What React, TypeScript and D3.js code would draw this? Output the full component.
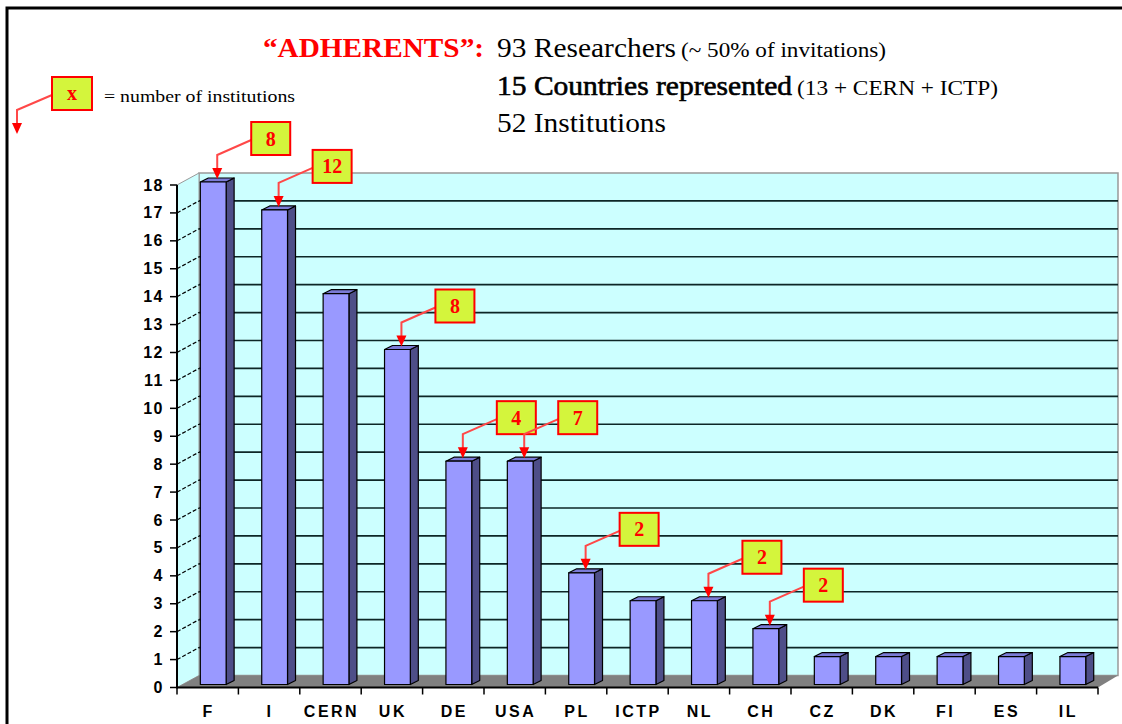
import React from "react";
import * as d3 from "d3";

const categories = ["F", "I", "CERN", "UK", "DE", "USA", "PL", "ICTP", "NL", "CH", "CZ", "DK", "FI", "ES", "IL"];
const researchers = [18, 17, 14, 12, 8, 8, 4, 3, 3, 2, 1, 1, 1, 1, 1];
const institutionCats = ["F", "I", "UK", "DE", "USA", "PL", "NL", "CH"];
const institutionCounts = [8, 12, 8, 4, 7, 2, 2, 2];
const yTicks = d3.range(0, 19);

const W = 1122;
const H = 724;
const DX = 22;
const DY = -12;
const BSY = -3;
const BDX = 8;
const BDY = -4;

const RED = "#ff0000";
const BOX = "#d4f53c";
const SERIF = "Liberation Serif, Times New Roman, serif";
const SANS = "Liberation Sans, Arial, sans-serif";

export default function App() {
  const x = d3.scaleBand<string>().domain(categories).range([177, 1098]).paddingInner(0).paddingOuter(0);
  const y = d3.scaleLinear().domain([0, 18]).range([687.5, 185]);
  const bw = x.bandwidth();
  const frontW = bw * 0.42;
  const frontOff = bw * 0.38;
  const x0 = 177, x1 = 1098, y0 = y(0), yTop = y(18);

  const barGeom = (c: string, v: number) => {
    const fx = (x(c) as number) + frontOff;
    const top = y(v) + BSY;
    const bottom = y0 + BSY;
    return { fx, top, bottom };
  };

  const arrowColor = "#ff4848";

  const annotation = (ax: number, tipY: number, n: string | number, key: string) => {
    const boxTop = tipY - 57;
    const boxLeft = ax + 34;
    const bwid = 39, bh = 33;
    const sy = boxTop + 18;
    const ey = boxTop + 33;
    return (
      <g key={key}>
        <polyline points={`${boxLeft},${sy} ${ax},${ey} ${ax},${tipY - 10}`} fill="none" stroke={arrowColor} strokeWidth={2} />
        <path d={`M${ax - 5},${tipY - 11} L${ax + 5},${tipY - 11} L${ax},${tipY} Z`} fill={RED} />
        <rect x={boxLeft} y={boxTop} width={bwid} height={bh} fill={BOX} stroke={RED} strokeWidth={2} />
        <text x={boxLeft + bwid / 2} y={boxTop + bh / 2 + 7} textAnchor="middle" fontFamily={SERIF} fontWeight="bold" fontSize={20} fill={RED}>{n}</text>
      </g>
    );
  };

  return (
    <svg width={W} height={H} style={{ position: "absolute", left: 0, top: 0 }} xmlns="http://www.w3.org/2000/svg">
      <rect x={0} y={0} width={W} height={H} fill="#ffffff" />
      <rect x={7} y={8} width={1300} height={900} fill="#ffffff" stroke="#000" strokeWidth={3} />

      {/* Title */}
      <text x={263} y={57} fontFamily={SERIF} fontWeight="bold" fontSize={28} fill={RED} textLength={221} lengthAdjust="spacingAndGlyphs">“ADHERENTS”:</text>
      <text x={497} y={57} fontFamily={SERIF} fontSize={27} fill="#000" textLength={179} lengthAdjust="spacingAndGlyphs">93 Researchers</text>
      <text x={681} y={57} fontFamily={SERIF} fontSize={20} fill="#000" textLength={205} lengthAdjust="spacingAndGlyphs">(~ 50% of invitations)</text>
      <text x={497} y={95} fontFamily={SERIF} fontSize={27} fill="#000" stroke="#000" strokeWidth={0.6} textLength={295} lengthAdjust="spacingAndGlyphs">15 Countries represented</text>
      <text x={797} y={95} fontFamily={SERIF} fontSize={20} fill="#000" textLength={201} lengthAdjust="spacingAndGlyphs">(13 + CERN + ICTP)</text>
      <text x={497} y={132} fontFamily={SERIF} fontSize={27} fill="#000" textLength={169} lengthAdjust="spacingAndGlyphs">52 Institutions</text>

      {/* Legend */}
      <polyline points="52,95 17,110 17,124" fill="none" stroke={arrowColor} strokeWidth={2} />
      <path d="M12,123 L22,123 L17,134 Z" fill={RED} />
      <rect x={52} y={77} width={40} height={33} fill={BOX} stroke={RED} strokeWidth={2} />
      <text x={72} y={100} textAnchor="middle" fontFamily={SERIF} fontWeight="bold" fontSize={20} fill={RED}>x</text>
      <text x={104} y={102} fontFamily={SERIF} fontSize={17} fill="#000" textLength={191} lengthAdjust="spacingAndGlyphs">= number of institutions</text>

      {/* Back wall */}
      <rect x={x0 + DX} y={yTop + DY} width={x1 - x0 - 2} height={y0 - yTop} fill="#ccffff" stroke="#999" strokeWidth={1.5} />
      {/* Left side wall */}
      <path d={`M${x0},${yTop} L${x0 + DX},${yTop + DY} L${x0 + DX},${y0 + DY} L${x0},${y0} Z`} fill="#ccffff" stroke="#999" strokeWidth={1} />
      {/* Floor */}
      <path d={`M${x0},${y0} L${x1},${y0} L${x1 + DX - 2},${y0 + DY} L${x0 + DX},${y0 + DY} Z`} fill="#808080" />

      {/* Gridlines */}
      {yTicks.filter((t) => t > 0 && t < 18).map((t) => (
        <g key={"g" + t}>
          <line x1={x0 + DX} x2={x1 + DX - 2} y1={y(t) + DY} y2={y(t) + DY} stroke="#0d2626" strokeWidth={1.6} />
          <line x1={x0} x2={x0 + DX} y1={y(t)} y2={y(t) + DY} stroke="#000" strokeWidth={1.2} strokeDasharray="4,2" />
        </g>
      ))}

      {/* Axes */}
      <line x1={x0} x2={x0} y1={yTop} y2={y0 + 1} stroke="#000" strokeWidth={2} />
      <line x1={x0} x2={x1} y1={y0} y2={y0} stroke="#000" strokeWidth={2} />
      {yTicks.map((t) => (
        <g key={"yt" + t}>
          <line x1={x0 - 7} x2={x0} y1={y(t)} y2={y(t)} stroke="#000" strokeWidth={1.5} />
          <text x={164} y={y(t) + 5.5} textAnchor="end" fontFamily={SANS} fontWeight="bold" fontSize={16} letterSpacing={1.5} fill="#000">{t}</text>
        </g>
      ))}
      {categories.map((c, i) => (
        <g key={"xt" + c}>
          <line x1={(x(c) as number)} x2={(x(c) as number)} y1={y0} y2={y0 + 7} stroke="#000" strokeWidth={1.5} />
          {i === categories.length - 1 && <line x1={x1} x2={x1} y1={y0} y2={y0 + 7} stroke="#000" strokeWidth={1.5} />}
          <text x={(x(c) as number) + bw / 2 + 1} y={717} textAnchor="middle" fontFamily={SANS} fontWeight="bold" fontSize={16} letterSpacing={2.5} fill="#000">{c}</text>
        </g>
      ))}

      {/* Bars */}
      {categories.map((c, i) => {
        const v = researchers[i];
        const { fx, top, bottom } = barGeom(c, v);
        const fr = fx + frontW;
        return (
          <g key={"b" + c} stroke="#000" strokeWidth={1.2} strokeLinejoin="round">
            <path d={`M${fr},${top} L${fr + BDX},${top + BDY} L${fr + BDX},${bottom + BDY} L${fr},${bottom} Z`} fill="#4e4e88" />
            <path d={`M${fx},${top} L${fx + BDX},${top + BDY} L${fr + BDX},${top + BDY} L${fr},${top} Z`} fill="#7b7bd6" />
            <rect x={fx} y={top} width={frontW} height={bottom - top} fill="#9999ff" />
          </g>
        );
      })}

      {/* Annotations */}
      {institutionCats.map((c, i) => {
        const v = researchers[categories.indexOf(c)];
        const { fx, top } = barGeom(c, v);
        const ax = fx + frontW / 2 + BDX / 2;
        return annotation(ax, top + BDY + 1, institutionCounts[i], "a" + c);
      })}
    </svg>
  );
}
